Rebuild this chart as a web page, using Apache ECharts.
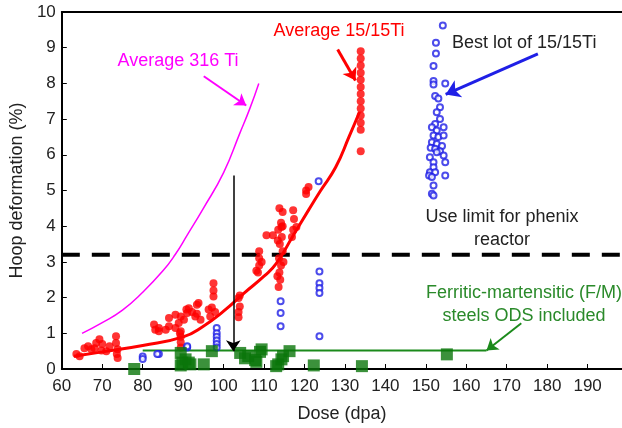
<!DOCTYPE html>
<html>
<head>
<meta charset="utf-8">
<script src="https://cdn.jsdelivr.net/npm/echarts@6/dist/echarts.min.js"></script>
<style>
  html, body { margin: 0; padding: 0; background: #fff; }
  #chart { width: 622px; height: 428px; }
</style>
</head>
<body>
<div id="chart"></div>
<script>
// average curves [dose, hoop deformation]
const avg316Ti = [[65,1.0],[70,1.3],[75,1.65],[80,2.15],[85,2.75],[88,3.2],[91,3.75],[95,4.5],[100,5.5],[104,6.6],[106.5,7.3],[108.7,8.0]];
const avg1515Ti = [[63,0.36],[70,0.48],[80,0.66],[90,0.9],[95,1.2],[100,1.62],[105,2.12],[110,2.6],[113,2.95],[117,3.7],[121,4.45],[124,5.0],[127.7,5.65],[131,6.5],[133.6,7.2]];

// 15/15Ti measurements
const pts1515Ti = [
  [63.6,0.42],[64.4,0.36],[65.6,0.58],[66.5,0.64],[67.3,0.55],[68.1,0.58],[68.5,0.73],[69.3,0.83],[70,0.7],[69.8,0.52],
  [71,0.5],[71.8,0.64],[73.4,0.92],[73.4,0.73],[73.8,0.55],[73.8,0.31],[73.6,0.42],
  [82.8,1.25],[83.1,1.1],[84,1.06],[85.7,1.1],[86.5,1.2],[88.1,1.15],[88.9,1.29],[89.4,1.06],[90.2,1.38],[91,1.57],
  [91.4,1.7],[92.2,1.6],[93,1.47],[93.8,1.85],[94.3,1.38],[96.7,1.47],[97.1,1.72],[97.5,2.03],[97.5,2.4],[97.9,1.6],
  [97.5,2.2],[96.3,1.67],[93.4,1.8],[93.4,1.55],[90.8,1.67],[89.4,1.47],[88.1,1.52],[86.5,1.43],[84,1.15],
  [89.4,0.9],[89.4,0.75],[89.4,0.6],[89.2,1.0],
  [103.7,1.6],[103.7,1.45],[104,1.75],[103.7,1.99],[104,2.06],
  [108.8,3.3],[108.8,3.1],[108.8,2.9],[108.5,2.7],[108.1,2.75],[110.6,3.75],[112.2,3.75],[109.4,3.0],
  [113.8,4.5],[114.6,4.4],[114.2,4.1],[113.5,3.9],[114.4,3.7],[113.9,3.5],[114.6,3.3],[113.7,3.1],[114.2,2.9],
  [113.8,2.7],[114,2.5],[113.6,2.3],[114.6,4.0],[113.4,3.6],[114.8,3.0],[113.3,2.6],[114.3,3.98],
  [117.2,4.45],[117.4,4.2],[117.2,3.9],[118,3.98],[116.9,3.7],[120.4,5.0],[121,5.1],[120.4,4.9],
  [133.9,8.9],[133.9,8.7],[133.9,8.5],[133.9,8.3],[133.9,8.1],[133.9,7.9],[133.9,7.7],[133.9,7.5],
  [133.9,7.3],[133.9,7.1],[133.9,6.9],[133.9,6.7],[133.9,6.1]
];

// best lot of 15/15Ti
const ptsBestLot = [
  [80,0.35],[80,0.28],[84,0.42],[83.6,0.42],[91,0.6],[91,0.64],
  [98.3,1.15],[98.3,1.0],[98.3,0.9],[98.3,0.8],[98.3,0.7],[98.3,0.6],
  [114.1,1.9],[114.1,1.57],[114.1,1.2],
  [123.5,5.26],[123.7,2.73],[123.7,2.4],[123.7,2.27],[123.7,2.13],[123.7,0.92],
  [154.2,9.62],[152.5,9.14],[152.5,8.84],[151.9,8.49],[151.9,8.07],[151.9,7.97],[154.8,8.0],[152.3,7.65],
  [153.1,7.58],[153.5,7.33],[152.7,7.19],[153.5,7.0],[152.3,6.86],[154.4,6.77],[151.5,6.77],[152.7,6.68],
  [151.9,6.54],[153.1,6.5],[154.4,6.54],[151.5,6.35],[152.7,6.3],[154,6.25],[151.2,6.2],[152.3,6.17],
  [153.5,6.1],[151,5.93],[152.7,6.07],[154.4,5.98],[151.9,5.79],[154.8,5.79],[151.9,5.65],[151,5.51],
  [152.3,5.51],[150.8,5.42],[151.5,5.38],[154.8,5.42],[151.9,5.14],[151.5,4.91],[151.9,4.86]
];

// ferritic-martensitic steels
const ptsFM = [
  [77.9,0],[89.4,0.45],[89.8,0.18],[90.6,0.27],[89.4,0.1],[91.8,0.13],[91.4,0.18],[95.1,0.13],[97.1,0.5],
  [104.1,0.45],[105.3,0.3],[106.1,0.36],[107.8,0.25],[108.1,0.2],[109,0.48],[109.4,0.55],
  [113,0.08],[113.5,0.13],[114.3,0.27],[114.7,0.36],[116.3,0.5],[122.3,0.1],[134.2,0.08],[155.2,0.41]
];
const fmLevel = [[80,0.52],[165,0.52]];
const useLimit = 3.2;

// arrows [from, to]
const arrow316 = [[95.1,8.2],[105.6,7.38]];
const arrow1515 = [[128.2,8.95],[132.6,8.08]];
const arrowBest = [[177.7,8.83],[154.9,7.69]];
const arrowFM = [[173.6,1.28],[165,0.52]];
const arrowDrop = [[102.4,5.42],[102.4,0.5]];

const xTicks = [60,70,80,90,100,110,120,130,140,150,160,170,180,190];

const FONT = '"Liberation Sans", Arial, sans-serif';
const chart = echarts.init(document.getElementById('chart'));

function arrow(coords, color, width, head) {
  return {
    type: 'lines', coordinateSystem: 'cartesian2d', polyline: false, silent: true,
    symbol: ['none', 'arrow'], symbolSize: [0, head],
    lineStyle: { color: color, width: width, opacity: 1 },
    data: [{ coords: coords }], z: 6
  };
}

function note(x, y, text, color, align) {
  return { type: 'text', x: x, y: y, style: { text: text, fill: color, font: '18px ' + FONT, align: align || 'center', verticalAlign: 'middle' } };
}

chart.setOption({
  animation: false,
  backgroundColor: '#fff',
  textStyle: { fontFamily: FONT },
  grid: { left: 57, right: 0, top: 12, bottom: 54 },
  xAxis: [{
    type: 'value', min: 60, max: 198.5, interval: 10,
    name: 'Dose (dpa)', nameLocation: 'middle', nameGap: 36,
    nameTextStyle: { fontSize: 18, color: '#222', fontFamily: FONT },
    axisLine: { lineStyle: { color: '#000', width: 2 } },
    axisTick: { inside: true, length: 5, lineStyle: { color: '#000' } },
    axisLabel: { fontSize: 17, color: '#222', margin: 9, showMaxLabel: false,
      formatter: v => xTicks.indexOf(v) >= 0 ? String(v) : '' },
    splitLine: { show: false }
  }, {
    type: 'value', position: 'top', min: 60, max: 198.5,
    axisLine: { show: true, lineStyle: { color: '#000', width: 2 } },
    axisTick: { show: false }, axisLabel: { show: false }, splitLine: { show: false }
  }],
  yAxis: {
    type: 'value', min: 0, max: 10, interval: 1,
    name: 'Hoop deformation (%)', nameLocation: 'middle', nameGap: 34,
    nameTextStyle: { fontSize: 18, color: '#222', fontFamily: FONT },
    axisLine: { show: true, lineStyle: { color: '#000', width: 2 } },
    axisTick: { show: true, inside: true, length: 5, lineStyle: { color: '#000' } },
    axisLabel: { fontSize: 17, color: '#222', margin: 6 },
    splitLine: { show: false }
  },
  series: [
    { type: 'line', data: avg316Ti, smooth: true, showSymbol: false, lineStyle: { color: '#ff00ff', width: 1.5 }, z: 2 },
    { type: 'line', data: [[60, useLimit], [198.5, useLimit]], showSymbol: false,
      lineStyle: { color: '#000', width: 4, type: [18, 12] }, z: 3 },
    { type: 'scatter', data: pts1515Ti, symbol: 'circle', symbolSize: 8, itemStyle: { color: '#ff0000' }, z: 3 },
    { type: 'line', data: avg1515Ti, smooth: true, showSymbol: false, lineStyle: { color: '#ff0000', width: 3 }, z: 3 },
    { type: 'scatter', data: ptsBestLot, symbol: 'emptyCircle', symbolSize: 6,
      itemStyle: { color: '#1f1fe6', borderWidth: 1.5 }, z: 4 },
    { type: 'line', data: fmLevel, showSymbol: false, lineStyle: { color: '#1b8a1b', width: 2 }, z: 4 },
    { type: 'scatter', data: ptsFM, symbol: 'rect', symbolSize: 12, itemStyle: { color: '#0a760a' }, z: 5 },
    arrow(arrow316, '#ff00ff', 2, 11),
    arrow(arrow1515, '#ff0000', 3, 12),
    arrow(arrowBest, '#1f1fe6', 3, 14),
    arrow(arrowFM, '#1b8a1b', 2, 11),
    arrow(arrowDrop, '#000', 1.5, 11)
  ],
  graphic: [
    note(178, 61, 'Average 316 Ti', '#ff00ff'),
    note(339, 31, 'Average 15/15Ti', '#ff0000'),
    note(452, 43, 'Best lot of 15/15Ti', '#222', 'left'),
    note(502, 217, 'Use limit for phenix', '#222'),
    note(502, 240, 'reactor', '#222'),
    note(524, 293, 'Ferritic-martensitic (F/M)', '#2a8a2a'),
    note(524, 316, 'steels ODS included', '#2a8a2a')
  ]
});
</script>
</body>
</html>
